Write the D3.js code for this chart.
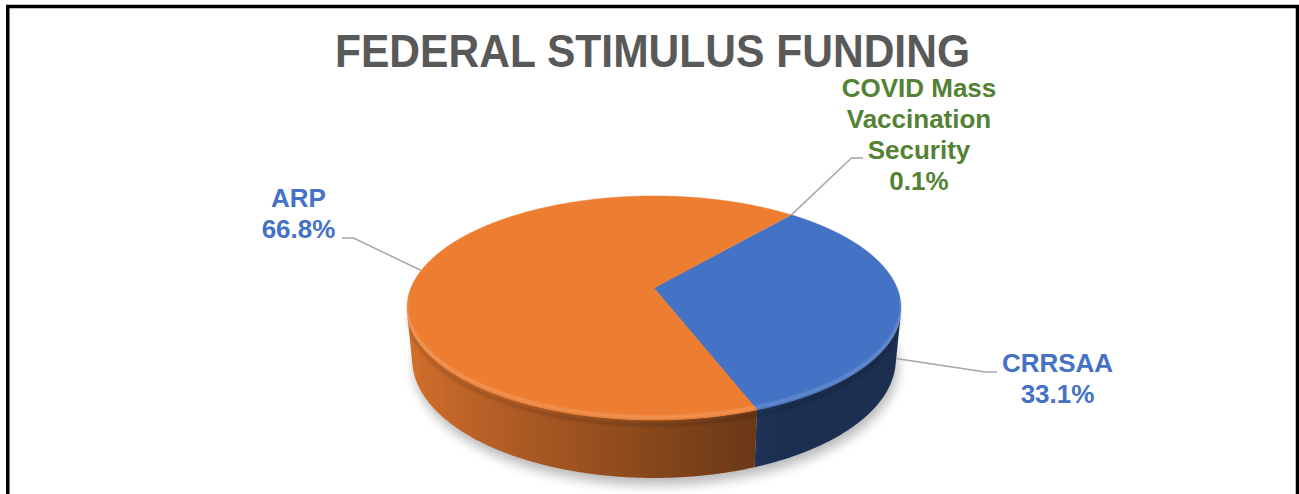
<!DOCTYPE html>
<html>
<head>
<meta charset="utf-8">
<script src="https://cdn.jsdelivr.net/npm/d3@7"></script>
<style>
  html, body { margin: 0; padding: 0; background: #fff; }
  svg { display: block; }
</style>
</head>
<body>
<script>
// chart values
const categories = ["COVID Mass Vaccination Security", "CRRSAA", "ARP"];
const shares = [0.1, 33.1, 66.8];
const pctLabels = ["0.1%", "33.1%", "66.8%"];
const labelLines = [["COVID Mass", "Vaccination", "Security"], ["CRRSAA"], ["ARP"]];
const sliceColors = ["#A5A5A5", "#4472C4", "#ED7D31"];
const labelColors = ["#548235", "#4472C4", "#4472C4"];

const width = 1299;
const height = 494;

// 3d view of the disc (radius 1)
const cx = 654, cy = 288;
const tilt = 26.5 * Math.PI / 180;
const sinA = Math.sin(tilt), cosA = Math.cos(tilt);
const camDist = 5.012;
const focal = 1218.5;
const thick = 0.237;
const startDeg = 39.8;

// label placement: x centre, first baseline, leader end, leader anchor height
const labelLayout = [
  { x: 919, y: 97, ex: 863, ey: 158, anchorY: 0 },
  { x: 1057.5, y: 372, ex: 997, ey: 372, anchorY: -thick },
  { x: 298.5, y: 207, ex: 342, ey: 238, anchorY: 0 }
];

function project(theta, r, y) {
  let u = r * Math.sin(theta);
  let v = -r * Math.cos(theta);
  let yc = y * cosA - v * sinA;
  let depth = camDist - y * sinA - v * cosA;
  return [cx + focal * u / depth, cy - focal * yc / depth];
}

let svg = d3.select("body")
  .append("svg")
  .attr("width", width)
  .attr("height", height);

let defs = svg.append("defs");
defs.append("filter")
  .attr("id", "shadowBlur")
  .attr("x", "-20%").attr("y", "-20%")
  .attr("width", "140%").attr("height", "140%")
  .append("feGaussianBlur")
  .attr("stdDeviation", 6);
defs.append("filter")
  .attr("id", "softEdge")
  .append("feGaussianBlur")
  .attr("stdDeviation", 1.2);

let pie = d3.pie()
  .sort(null)
  .value(d => d)
  .startAngle(startDeg * Math.PI / 180)
  .endAngle(startDeg * Math.PI / 180 + 2 * Math.PI);

let arcs = pie(shares);

let line = d3.line();

function arcPoints(a0, a1, y) {
  let n = Math.max(2, Math.ceil((a1 - a0) / 0.005));
  return d3.range(n + 1).map(i => project(a0 + (a1 - a0) * i / n, 1, y));
}

// soft shadow under the disc
svg.append("path")
  .attr("d", line(arcPoints(0, 2 * Math.PI, -thick)) + "Z")
  .attr("transform", "translate(2,7)")
  .attr("fill", "#000")
  .attr("opacity", 0.28)
  .attr("filter", "url(#shadowBlur)");

// visible part of the rim
let limit = Math.acos(-1 / (camDist * cosA));
let visible = [[limit, 2 * Math.PI - limit], [limit + 2 * Math.PI, 4 * Math.PI - limit]];

function shade(theta) {
  let f = 0.567 + 0.342 * (-Math.sin(theta));
  return Math.max(0.41, Math.min(0.92, f));
}

// rim of each slice, shaded left to right with a gradient
let sides = svg.append("g").attr("class", "sides");
arcs.forEach((a, i) => {
  visible.forEach((w, j) => {
    let a0 = Math.max(a.startAngle, w[0]);
    let a1 = Math.min(a.endAngle, w[1]);
    if (a1 <= a0) return;
    let topPts = arcPoints(a0, a1, 0);
    let botPts = arcPoints(a0, a1, -thick).reverse();
    let xs = topPts.concat(botPts).map(p => p[0]);
    let x0 = d3.min(xs), x1 = d3.max(xs);
    let id = "side" + i + "_" + j;
    let base = d3.rgb(sliceColors[i]);
    let grad = defs.append("linearGradient")
      .attr("id", id)
      .attr("gradientUnits", "userSpaceOnUse")
      .attr("x1", x0).attr("x2", x1)
      .attr("y1", 0).attr("y2", 0);
    let n = 40;
    d3.range(n + 1).forEach(k => {
      let th = a0 + (a1 - a0) * k / n;
      let px = project(th, 1, 0)[0];
      let f = shade(th);
      grad.append("stop")
        .attr("offset", Math.max(0, Math.min(1, (px - x0) / (x1 - x0))))
        .attr("stop-color", d3.rgb(base.r * f, base.g * f, base.b * f));
    });
    // stops must be ascending in offset
    grad.selectAll("stop").sort((p, q) => 0);
    let stops = grad.selectAll("stop").nodes()
      .sort((p, q) => +p.getAttribute("offset") - +q.getAttribute("offset"));
    stops.forEach(s => grad.node().appendChild(s));
    sides.append("path")
      .attr("d", line(topPts.concat(botPts)) + "Z")
      .attr("fill", "url(#" + id + ")");
  });
});

// darker band just under the rounded rim
svg.append("path")
  .attr("d", line(arcPoints(limit, 2 * Math.PI - limit, -0.02)))
  .attr("fill", "none")
  .attr("stroke", "#000")
  .attr("stroke-opacity", 0.12)
  .attr("stroke-width", 4)
  .attr("filter", "url(#softEdge)");

// top faces
svg.append("g")
  .selectAll("path")
  .data(arcs)
  .enter()
  .append("path")
  .attr("d", a => line([[cx, cy]].concat(arcPoints(a.startAngle, a.endAngle, 0))) + "Z")
  .attr("fill", (a, i) => sliceColors[i])
  .attr("stroke", (a, i) => sliceColors[i])
  .attr("stroke-width", 0.5);

// light bevel on the front edge
svg.append("path")
  .attr("d", line(arcPoints(limit - 0.1, 2 * Math.PI - limit + 0.1, 0.012)))
  .attr("fill", "none")
  .attr("stroke", "#fff")
  .attr("stroke-opacity", 0.22)
  .attr("stroke-width", 2.5)
  .attr("filter", "url(#softEdge)");

// leader lines
arcs.forEach((a, i) => {
  let lay = labelLayout[i];
  let mid = (a.startAngle + a.endAngle) / 2;
  let p = project(mid, 1, lay.anchorY);
  let elbowX = p[0] < lay.ex ? lay.ex - 11.5 : lay.ex + 11.5;
  svg.append("path")
    .attr("d", line([p, [elbowX, lay.ey], [lay.ex, lay.ey]]))
    .attr("fill", "none")
    .attr("stroke", "#A6A6A6")
    .attr("stroke-width", 1.5);
});

// data labels
let labels = svg.append("g")
  .attr("font-family", "'Liberation Sans', Arial, sans-serif")
  .attr("font-weight", "bold")
  .attr("font-size", 26)
  .attr("text-anchor", "middle");

arcs.forEach((a, i) => {
  let lay = labelLayout[i];
  let rows = labelLines[i].concat([pctLabels[i]]);
  let t = labels.append("text")
    .attr("fill", labelColors[i]);
  rows.forEach((r, k) => {
    t.append("tspan")
      .attr("x", lay.x)
      .attr("y", lay.y + k * 31)
      .text(r);
  });
});

// title
svg.append("text")
  .attr("x", 652.5)
  .attr("y", 67)
  .attr("text-anchor", "middle")
  .attr("font-family", "'Liberation Sans', Arial, sans-serif")
  .attr("font-weight", "bold")
  .attr("font-size", 47)
  .attr("textLength", 635)
  .attr("lengthAdjust", "spacingAndGlyphs")
  .attr("fill", "#595959")
  .text("FEDERAL STIMULUS FUNDING");

// frame
svg.append("rect")
  .attr("x", 7.75)
  .attr("y", 6.5)
  .attr("width", 1297.5 - 7.75)
  .attr("height", 520)
  .attr("fill", "none")
  .attr("stroke", "#000")
  .attr("stroke-width", 3.5);
</script>
</body>
</html>
